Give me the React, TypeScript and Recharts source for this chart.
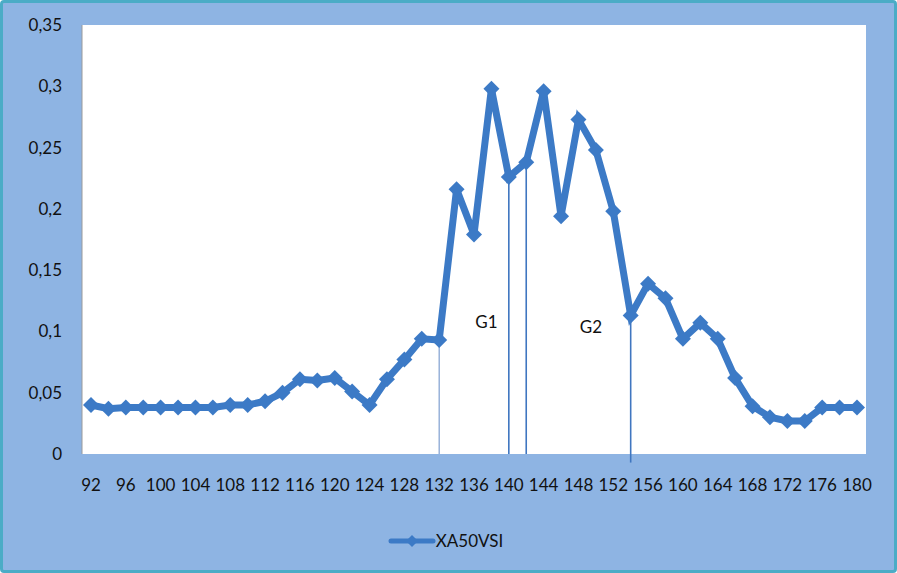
import { LineChart, Line, XAxis, YAxis, ReferenceLine, ReferenceDot } from "recharts";

document.body.style.margin = "0";

const MASSES = [
  "92", "94", "96", "98", "100", "102", "104", "106", "108", "110", "112", "114", "116", "118", "120",
  "122", "124", "126", "128", "130", "132", "134", "136", "138", "140", "142", "144", "146", "148", "150",
  "152", "154", "156", "158", "160", "162", "164", "166", "168", "170", "172", "174", "176", "178", "180",
];
const XA50VSI = [
  0.04, 0.037, 0.038, 0.038, 0.038, 0.038, 0.038, 0.038, 0.04, 0.04, 0.043, 0.05, 0.061, 0.06, 0.062,
  0.051, 0.04, 0.061, 0.077, 0.094, 0.093, 0.216, 0.179, 0.298, 0.226, 0.238, 0.296, 0.194, 0.273, 0.248,
  0.198, 0.113, 0.139, 0.127, 0.094, 0.107, 0.094, 0.062, 0.039, 0.03, 0.027, 0.027, 0.038, 0.038, 0.038,
];
const Y_TICKS = [0, 0.05, 0.1, 0.15, 0.2, 0.25, 0.3, 0.35];
// cut lines drawn from a point down to the axis
const CUTS = [
  { x: "132", top: 0.093, bottom: 0, color: "#7f9fd0", w: 1.2 },
  { x: "140", top: 0.226, bottom: 0, color: "#3f76c0", w: 1.6 },
  { x: "142", top: 0.238, bottom: 0, color: "#3f76c0", w: 1.6 },
  { x: "154", top: 0.113, bottom: -0.007, color: "#3f76c0", w: 1.6 },
];
const GROUPS = [
  { x: "138", y: 0.108, label: "G1" },
  { x: "150", y: 0.104, label: "G2" },
];

const data = MASSES.map((m, i) => ({ m, v: XA50VSI[i] }));

const BLUE = "#3c7ac6";
const FONT = "Lato, 'Open Sans', sans-serif";

function Diamond(props: any) {
  const { cx, cy } = props;
  if (cx == null || cy == null) return null;
  const r = 8;
  return (
    <polygon
      points={`${cx},${cy - r} ${cx + r},${cy} ${cx},${cy + r} ${cx - r},${cy}`}
      fill={BLUE}
    />
  );
}

export default function App() {
  return (
    <div
      style={{
        position: "relative",
        width: 897,
        height: 573,
        boxSizing: "border-box",
        background: "#8eb4e3",
        border: "3px solid #4bacc6",
        borderRadius: 4,
      }}
    >
      <LineChart width={891} height={567} data={data} margin={{ top: 22, right: 28, bottom: 0, left: 0 }}>
        <rect x={79} y={22} width={784} height={429} fill="#ffffff" />
        <XAxis
          dataKey="m"
          interval={1}
          tickSize={0}
          tickMargin={25}
          height={116}
          padding={{ left: 9, right: 9 }}
          axisLine={false}
          tick={{ fill: "#111", fontSize: 17, fontFamily: FONT }}
        />
        <YAxis
          domain={[0, 0.35]}
          ticks={Y_TICKS}
          width={79}
          tickSize={0}
          tickMargin={20}
          axisLine={{ stroke: "#9a9a9a" }}
          tickFormatter={(v: number) => String(v).replace(".", ",")}
          tick={{ fill: "#111", fontSize: 17, fontFamily: FONT }}
        />
        {CUTS.map((c) => (
          <ReferenceLine
            key={c.x}
            segment={[{ x: c.x, y: c.top }, { x: c.x, y: c.bottom }]}
            stroke={c.color}
            strokeWidth={c.w}
            ifOverflow="visible"
          />
        ))}
        {GROUPS.map((g) => (
          <ReferenceDot
            key={g.label}
            x={g.x}
            y={g.y}
            r={0}
            stroke="none"
            fill="none"
            label={{ value: g.label, position: "center", dx: -5, fill: "#111", fontSize: 17, fontFamily: FONT }}
          />
        ))}
        <Line
          type="linear"
          dataKey="v"
          name="XA50VSI"
          stroke={BLUE}
          strokeWidth={7}
          dot={<Diamond />}
          activeDot={false}
          isAnimationActive={false}
        />
      </LineChart>
      <div
        style={{
          position: "absolute",
          left: 0,
          right: 0,
          top: 527,
          display: "flex",
          justifyContent: "center",
          alignItems: "center",
          fontFamily: FONT,
          fontSize: 17,
          color: "#111",
          paddingRight: 6,
        }}
      >
        <svg width={48} height={16}>
          <line x1={3} y1={8} x2={45} y2={8} stroke={BLUE} strokeWidth={5} strokeLinecap="round" />
          <polygon points="24,2 30,8 24,14 18,8" fill={BLUE} />
        </svg>
        <span>XA50VSI</span>
      </div>
    </div>
  );
}
